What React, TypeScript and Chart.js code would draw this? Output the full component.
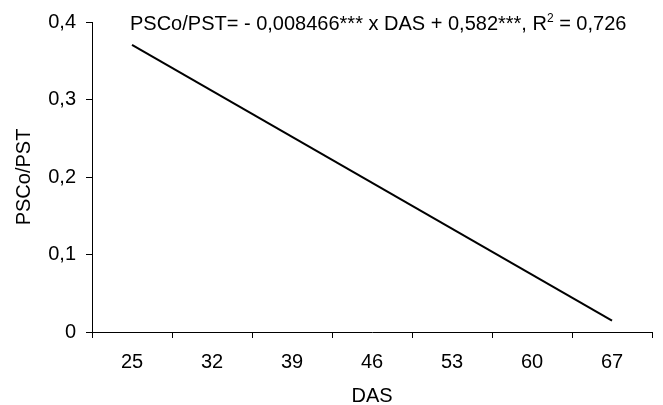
import React, { useEffect, useRef } from "react";
import { Chart, registerables } from "chart.js";

Chart.register(...registerables);

// Days after sowing (DAS) shown on the category axis
const dasLabels = ["25", "32", "39", "46", "53", "60", "67"];
// Fitted PSCo/PST values of the regression line (only the end points are drawn)
const fittedRatio: (number | null)[] = [0.3704, null, null, null, null, null, 0.0148];
// Y axis range and step
const yMin = 0;
const yMax = 0.4;
const yStep = 0.1;
// Regression equation text, split around the superscript
const equationMain = "PSCo/PST= - 0,008466*** x DAS + 0,582***, R";
const equationSup = "2";
const equationTail = " = 0,726";

const FONT = "'Liberation Sans', Arial, sans-serif";
const SIZE = 20;

const equationPlugin = {
  id: "equationText",
  afterDraw(chart: any) {
    const ctx = chart.ctx as CanvasRenderingContext2D;
    ctx.save();
    ctx.fillStyle = "#000";
    ctx.textBaseline = "alphabetic";
    ctx.textAlign = "left";
    let x = 130;
    const y = 30;
    ctx.font = `${SIZE}px ${FONT}`;
    ctx.fillText(equationMain, x, y);
    x += ctx.measureText(equationMain).width;
    ctx.font = `12px ${FONT}`;
    ctx.fillText(equationSup, x, y - 8);
    x += ctx.measureText(equationSup).width;
    ctx.font = `${SIZE}px ${FONT}`;
    ctx.fillText(equationTail, x, y);
    ctx.restore();
  },
};

export default function App() {
  const canvasRef = useRef<HTMLCanvasElement | null>(null);

  useEffect(() => {
    if (!canvasRef.current) return;
    const chart = new Chart(canvasRef.current, {
      type: "line",
      data: {
        labels: dasLabels,
        datasets: [
          {
            data: fittedRatio,
            borderColor: "#000",
            borderWidth: 2,
            pointRadius: 0,
            spanGaps: true,
            tension: 0,
          },
        ],
      },
      options: {
        animation: false,
        responsive: false,
        layout: { padding: { top: 22, right: 11, left: 0, bottom: 0 } },
        plugins: { legend: { display: false }, tooltip: { enabled: false } },
        scales: {
          x: {
            type: "category",
            offset: true,
            afterFit: (s: any) => {
              s.height = 73;
            },
            grid: {
              offset: true,
              drawOnChartArea: false,
              drawTicks: true,
              tickLength: 6,
              color: "#000",
            },
            border: { display: true, color: "#000", width: 1 },
            ticks: {
              color: "#000",
              font: { family: FONT, size: SIZE },
              padding: 12,
              maxRotation: 0,
            },
            title: {
              display: true,
              text: "DAS",
              color: "#000",
              font: { family: FONT, size: SIZE },
              padding: { top: 0, bottom: -3 },
            },
          },
          y: {
            min: yMin,
            max: yMax,
            afterFit: (s: any) => {
              s.width = 92;
            },
            grid: {
              drawOnChartArea: false,
              drawTicks: true,
              tickLength: 6,
              color: "#000",
            },
            border: { display: true, color: "#000", width: 1 },
            ticks: {
              stepSize: yStep,
              color: "#000",
              font: { family: FONT, size: SIZE },
              padding: 10,
              callback: (v: any) => {
                const n = Number(v);
                return n === 0 ? "0" : n.toFixed(1).replace(".", ",");
              },
            },
            title: {
              display: true,
              text: "PSCo/PST",
              color: "#000",
              font: { family: FONT, size: SIZE },
              padding: { top: 12, bottom: 0 },
            },
          },
        },
      },
      plugins: [equationPlugin],
    });
    return () => chart.destroy();
  }, []);

  return (
    <div style={{ position: "fixed", left: 0, top: 0, width: 663, height: 405, background: "#fff" }}>
      <canvas ref={canvasRef} width={663} height={405} style={{ display: "block" }} />
    </div>
  );
}
